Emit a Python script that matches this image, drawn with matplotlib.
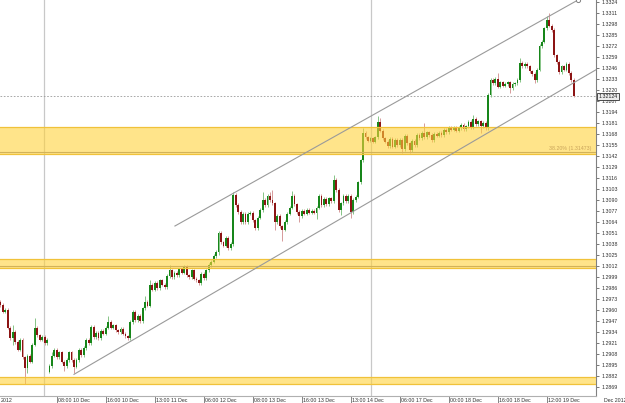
import numpy as np
import matplotlib
matplotlib.use("Agg")
import matplotlib.pyplot as plt
from matplotlib.transforms import blended_transform_factory

plt.rcParams['font.family'] = ['Liberation Sans', 'DejaVu Sans']

# ---------------- data (EURUSD-like candles) ----------------
first_open = 1.2970
gap_index = 20
gap_open = 1.2887

closes = [
    1.2966, 1.2958, 1.2960, 1.2939, 1.2927, 1.2934, 1.2922, 1.2913, 1.2925, 1.2904,
    1.2891, 1.2906, 1.2899, 1.2919, 1.2939, 1.2930, 1.2925, 1.2928, 1.2921, 1.2925,
    1.2894, 1.2906, 1.2913, 1.2904, 1.2910, 1.2899, 1.2894, 1.2901, 1.2910, 1.2901,
    1.2893, 1.2901, 1.2913, 1.2907, 1.2915, 1.2925, 1.2921, 1.2940, 1.2928, 1.2933,
    1.2927, 1.2935, 1.2932, 1.2939, 1.2946, 1.2939, 1.2942, 1.2936, 1.2934, 1.2938,
    1.2932, 1.2929, 1.2927, 1.2946, 1.2958, 1.2948, 1.2953, 1.2947, 1.2962, 1.2970,
    1.2965, 1.2990, 1.2984, 1.2992, 1.2986, 1.2995, 1.2990, 1.2987, 1.3000, 1.3007,
    1.2999, 1.3004, 1.3001, 1.3008, 1.3004, 1.3011, 1.3001, 1.2999, 1.3007, 1.2997,
    1.2995, 1.2992, 1.3003, 1.2998, 1.3007, 1.3013, 1.3017, 1.3024, 1.3029, 1.3051,
    1.3040, 1.3036, 1.3045, 1.3033, 1.3038, 1.3096, 1.3084, 1.3076, 1.3064, 1.3074,
    1.3064, 1.3074, 1.3075, 1.3066, 1.3057, 1.3069, 1.3078, 1.3090, 1.3084, 1.3095,
    1.3090, 1.3086, 1.3064, 1.3071, 1.3059, 1.3055, 1.3064, 1.3074, 1.3081, 1.3095,
    1.3085, 1.3076, 1.3071, 1.3077, 1.3074, 1.3078, 1.3075, 1.3077, 1.3075, 1.3081,
    1.3095, 1.3084, 1.3091, 1.3085, 1.3092, 1.3089, 1.3114, 1.3102, 1.3078, 1.3086,
    1.3095, 1.3089, 1.3095, 1.3076, 1.3090, 1.3094, 1.3111, 1.3137, 1.3169, 1.3164,
    1.3160, 1.3163, 1.3159, 1.3164, 1.3182, 1.3172, 1.3163, 1.3159, 1.3154, 1.3162,
    1.3153, 1.3161, 1.3155, 1.3161, 1.3150, 1.3166, 1.3157, 1.3149, 1.3160, 1.3155,
    1.3167, 1.3163, 1.3169, 1.3164, 1.3170, 1.3167, 1.3161, 1.3168, 1.3166, 1.3169,
    1.3167, 1.3173, 1.3170, 1.3175, 1.3173, 1.3176, 1.3172, 1.3175, 1.3179, 1.3174,
    1.3177, 1.3182, 1.3176, 1.3186, 1.3180, 1.3183, 1.3177, 1.3181, 1.3175, 1.3214,
    1.3232, 1.3228, 1.3233, 1.3224, 1.3229, 1.3225, 1.3227, 1.3229, 1.3222, 1.3227,
    1.3228, 1.3232, 1.3252, 1.3248, 1.3251, 1.3248, 1.3242, 1.3239, 1.3232, 1.3244,
    1.3272, 1.3277, 1.3293, 1.3303, 1.3296, 1.3291, 1.3261, 1.3253, 1.3241, 1.3248,
    1.3244, 1.3251, 1.3240, 1.3232, 1.32124,
]

upper_wick_pips = [
    2, 2, 2, 2, 2, 8, 2, 2, 2, 2,
    2, 2, 2, 2, 12, 2, 2, 2, 2, 2,
    2, 4, 2, 2, 2, 2, 2, 2, 2, 2,
    2, 2, 2, 2, 2, 2, 2, 2, 2, 2,
    2, 2, 2, 2, 7, 2, 2, 2, 2, 2,
    2, 2, 2, 2, 2, 2, 2, 2, 2, 6,
    2, 5, 2, 2, 2, 2, 2, 2, 2, 6,
    2, 2, 2, 2, 2, 2, 2, 2, 2, 2,
    2, 2, 2, 2, 2, 2, 2, 2, 2, 2,
    2, 2, 2, 2, 2, 4, 2, 2, 2, 2,
    2, 2, 2, 2, 2, 2, 2, 9, 2, 2,
    4, 12, 2, 2, 2, 2, 2, 2, 2, 6,
    2, 2, 2, 2, 2, 2, 2, 2, 2, 2,
    2, 2, 2, 2, 2, 2, 6, 2, 2, 2,
    2, 2, 2, 2, 2, 2, 2, 2, 6, 2,
    2, 2, 2, 2, 7, 5, 2, 2, 2, 2,
    2, 2, 2, 2, 2, 2, 2, 2, 2, 2,
    2, 2, 2, 12, 2, 2, 2, 2, 2, 2,
    2, 2, 2, 2, 2, 2, 2, 2, 2, 2,
    2, 2, 2, 4, 2, 2, 2, 2, 2, 2,
    2, 2, 2, 7, 2, 2, 2, 2, 2, 2,
    2, 2, 6, 2, 2, 2, 2, 2, 2, 2,
    2, 2, 2, 4, 8, 2, 2, 2, 2, 2,
    2, 2, 2, 2, 2,
]

lower_wick_pips = [
    2, 2, 2, 2, 2, 8, 2, 2, 2, 2,
    18, 5, 2, 2, 2, 2, 2, 2, 2, 2,
    2, 2, 2, 2, 2, 2, 6, 2, 2, 2,
    8, 2, 2, 2, 2, 2, 2, 2, 2, 2,
    2, 2, 2, 2, 2, 2, 2, 2, 2, 2,
    2, 2, 2, 2, 2, 2, 2, 2, 2, 2,
    2, 2, 2, 2, 2, 2, 2, 2, 2, 2,
    2, 2, 2, 2, 2, 2, 2, 2, 2, 2,
    2, 2, 2, 2, 2, 2, 2, 2, 2, 4,
    2, 2, 2, 2, 2, 2, 2, 2, 2, 2,
    2, 2, 2, 2, 2, 2, 2, 2, 2, 2,
    2, 2, 9, 2, 2, 14, 2, 2, 2, 2,
    2, 2, 7, 2, 2, 2, 2, 2, 2, 8,
    2, 2, 2, 2, 2, 2, 2, 2, 2, 6,
    2, 2, 2, 7, 2, 2, 2, 2, 2, 2,
    2, 2, 2, 2, 2, 2, 2, 2, 2, 2,
    2, 2, 2, 2, 5, 2, 2, 4, 2, 2,
    2, 2, 2, 2, 2, 2, 2, 2, 2, 2,
    2, 2, 2, 2, 2, 2, 2, 2, 2, 2,
    2, 2, 2, 2, 2, 2, 8, 2, 2, 2,
    2, 2, 2, 2, 2, 2, 2, 2, 6, 2,
    2, 2, 2, 2, 2, 2, 2, 2, 4, 2,
    2, 2, 2, 2, 2, 2, 2, 2, 2, 2,
    2, 2, 2, 2, 1,
]

# support / resistance zones (low, high) and their inner lines
zones = [(1.31444, 1.31763), (1.30097, 1.30203), (1.28726, 1.28809)]
zone_lines = [1.31473, 1.30121]
fib_label = "38.20% (1.31473)"

# trend channel anchors (bar index, price)
channel_lower = [(30, 1.2884), (243.5, 1.32447)]
channel_upper = [(71.2, 1.30593), (235.7, 1.33264)]

current_price = 1.32124
session_breaks = [17.8, 151.2]

price_ticks = [1.2869, 1.2882, 1.2895, 1.2908, 1.2921, 1.2934, 1.2947, 1.2960, 1.2973,
               1.2986, 1.2999, 1.3012, 1.3025, 1.3038, 1.3051, 1.3064, 1.3077, 1.3090,
               1.3103, 1.3116, 1.3129, 1.3142, 1.3155, 1.3168, 1.3181, 1.3194, 1.3207,
               1.3220, 1.3233, 1.3246, 1.3259, 1.3272, 1.3285, 1.3298, 1.3311, 1.3324]
time_tick_bars = [23, 43, 63, 83, 103, 123, 143, 163, 183, 203, 223]
time_tick_labels = ["08:00 10 Dec", "16:00 10 Dec", "13:00 11 Dec", "06:00 12 Dec",
                    "08:00 13 Dec", "16:00 13 Dec", "13:00 14 Dec", "06:00 17 Dec",
                    "00:00 18 Dec", "16:00 18 Dec", "12:00 19 Dec"]

# ---------------- figure ----------------
W, H = 625, 403
fig = plt.figure(figsize=(W / 100, H / 100), dpi=100)
ax = fig.add_axes([0, 7 / H, 596 / W, 396 / H])

closes_a = np.array(closes)
n = len(closes_a)
idx = np.arange(n)
opens = np.r_[first_open, closes_a[:-1]]
opens[gap_index] = gap_open
highs = np.maximum(opens, closes_a) + np.array(upper_wick_pips) * 0.0001
lows = np.minimum(opens, closes_a) - np.array(lower_wick_pips) * 0.0001
up = closes_a >= opens

body_green, body_red = '#17861a', '#8c1414'
wick_green, wick_red = '#86c486', '#d69a9a'

ax.vlines(idx[up], lows[up], highs[up], color=wick_green, lw=0.7, zorder=2)
ax.vlines(idx[~up], lows[~up], highs[~up], color=wick_red, lw=0.7, zorder=2)
bottoms = np.minimum(opens, closes_a)
heights = np.maximum(np.abs(closes_a - opens), 0.00005)
ax.bar(idx, heights, bottom=bottoms, width=0.75,
       color=np.where(up, body_green, body_red), linewidth=0, zorder=2.5)

# zones (drawn over candles, semi transparent)
for lo, hi in zones:
    ax.axhspan(lo, hi, facecolor='#ffd23c', alpha=0.6, lw=0, zorder=3)
    ax.axhline(hi, color='#f0c23a', lw=0.9, zorder=3.1)
    ax.axhline(lo, color='#f0c23a', lw=0.9, zorder=3.1)
for lv in zone_lines:
    ax.axhline(lv, color='#d2b25a', lw=0.8, zorder=3.2)
ax.text(0.993, zone_lines[0] + 0.00012, fib_label, transform=blended_transform_factory(ax.transAxes, ax.transData),
        ha='right', va='bottom', fontsize=3.8, color='#c9a45a', zorder=4)

# session separators
for sb in session_breaks:
    ax.axvline(sb, color='#c8c8c8', lw=0.9, zorder=1)

# channel
for pts in (channel_lower, channel_upper):
    xs, ys = zip(*pts)
    ax.plot(xs, ys, color='#9a9a9a', lw=0.8, zorder=4)
ax.plot([channel_upper[1][0]], [channel_upper[1][1]], marker='o', ms=3, mfc='white',
        mec='#808080', mew=0.7, clip_on=False, zorder=5)

# current price line + label
ax.axhline(current_price, color='#9a9a9a', lw=0.6, ls=(0, (2, 2)), zorder=1.5)
ax.annotate(f"{current_price:.5f}", xy=(1.0, current_price),
            xycoords=blended_transform_factory(ax.transAxes, ax.transData),
            xytext=(1.6, 0), textcoords='offset points', ha='left', va='center',
            fontsize=3.8, color='#202020',
            bbox=dict(boxstyle='square,pad=0.25', fc='#ececec', ec='#303030', lw=0.6),
            annotation_clip=False, zorder=6)

# axes limits / ticks
ax.set_xlim(-0.2, 243.06)
ax.set_ylim(1.28584, 1.33264)

ax.yaxis.tick_right()
ax.set_yticks(price_ticks)
ax.set_yticklabels([f"{t:.4f}" for t in price_ticks])
ax.tick_params(axis='y', length=2.4, width=0.6, color='#606060', pad=1.5,
               labelsize=3.8, labelcolor='#303030')

ax.set_xticks(time_tick_bars)
ax.set_xticklabels([])
ax.tick_params(axis='x', length=5.5, width=0.6, color='#707070', direction='out')
xtrans = blended_transform_factory(ax.transData, ax.transAxes)
for b, lab in zip(time_tick_bars, time_tick_labels):
    ax.annotate(lab, xy=(b, 0), xycoords=xtrans, xytext=(1.0, -1.2), textcoords='offset points',
                ha='left', va='top', fontsize=3.8, color='#303030', annotation_clip=False)
ax.annotate("2012", xy=(-0.2, 0), xycoords=xtrans, xytext=(0.3, -1.2), textcoords='offset points',
            ha='left', va='top', fontsize=3.8, color='#303030', annotation_clip=False)
fig.text(604 / W, 1 - 400 / H, "Dec 2012", ha='left', va='center', fontsize=3.8, color='#303030')

for s in ('top', 'left'):
    ax.spines[s].set_visible(False)
ax.spines['right'].set_color('#808080')
ax.spines['right'].set_linewidth(0.8)
ax.spines['bottom'].set_color('#b0b0b0')
ax.spines['bottom'].set_linewidth(0.8)

fig.savefig("out.png", dpi=100)
